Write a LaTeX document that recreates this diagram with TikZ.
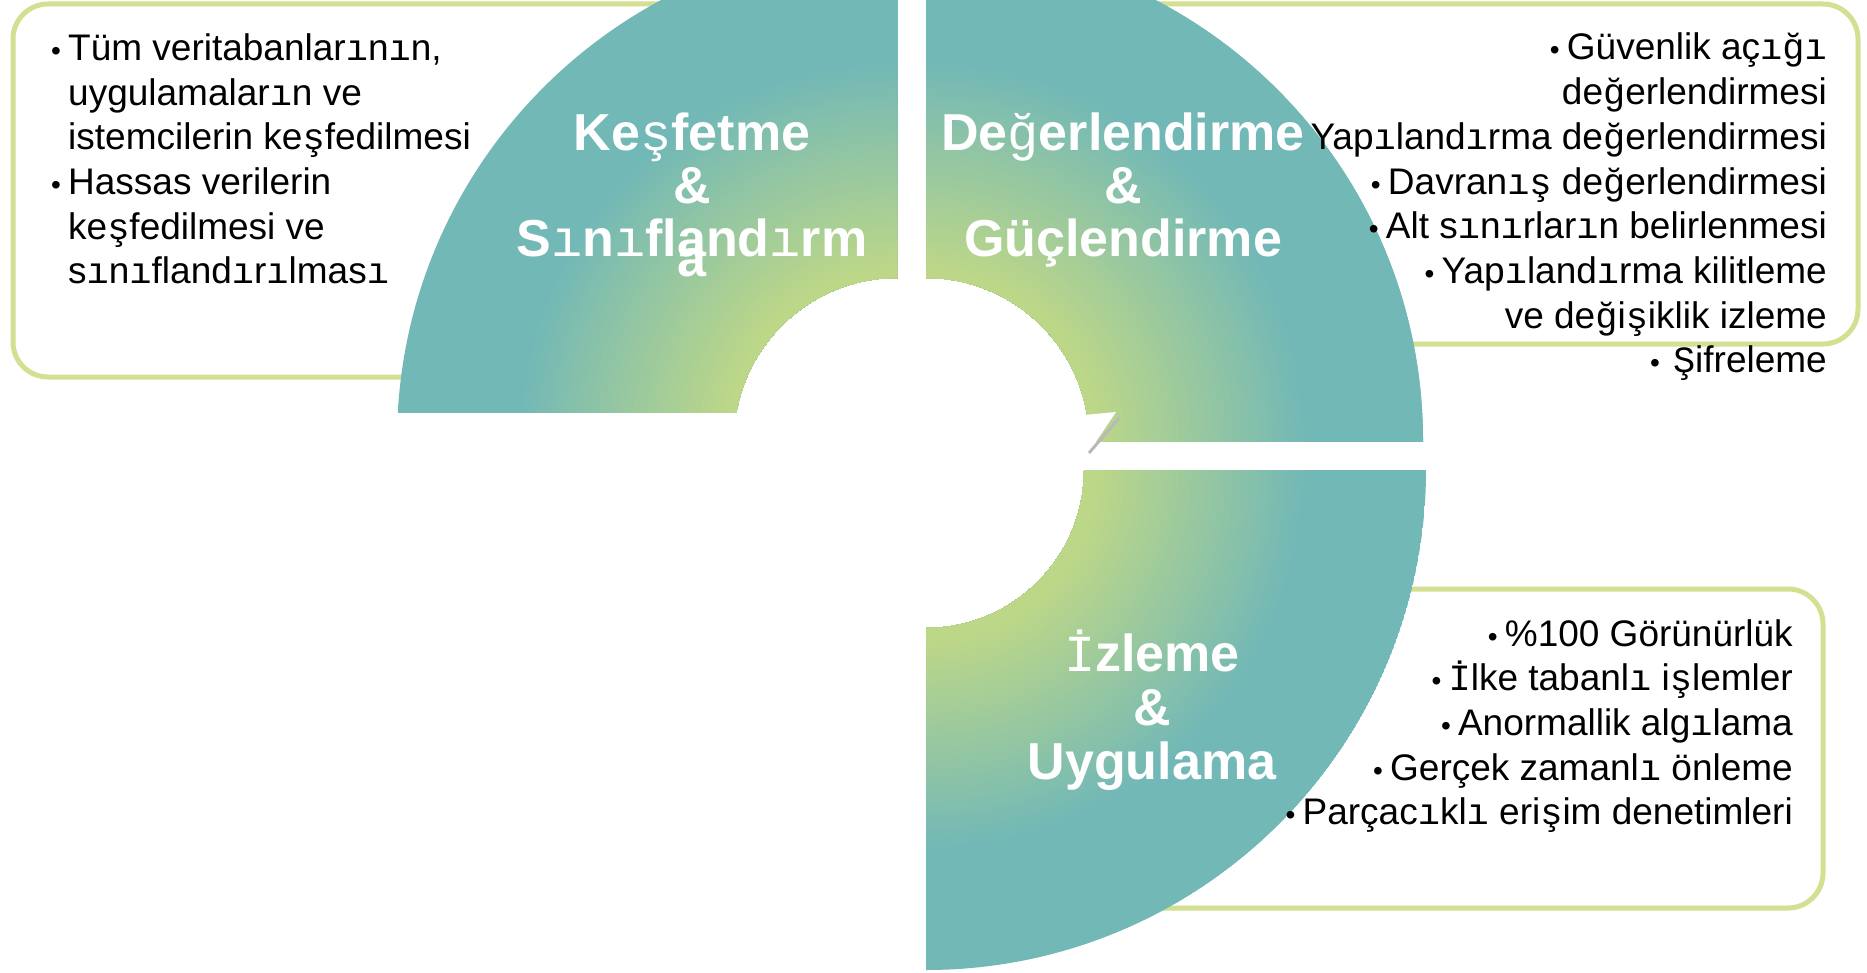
\documentclass[tikz,border=0pt]{standalone}
\usepackage{fontspec}
\setmainfont{Liberation Sans}
\newfontfamily\fbfont{Liberation Mono}
% letters set in the substitute mono face
\newcommand\fb[1]{{\fbfont\mdseries #1}}
% bullet followed by its gap
\newcommand\bul{\makebox[17pt][l]{\fontsize{28pt}{28pt}\selectfont •}}

\definecolor{ringgreen}{HTML}{BDD788}
\definecolor{ringteal}{HTML}{72B8B7}
\definecolor{boxline}{HTML}{D3DF91}

\tikzset{
  infobox/.style={draw=boxline, line width=5pt, fill=white, rounded corners=35pt},
  body/.style={font=\fontsize{37pt}{44.7pt}\selectfont, text=black, inner sep=0pt},
  title/.style={font=\fontsize{52pt}{53pt}\selectfont\bfseries, text=white, inner sep=0pt},
}

% radial green-to-teal fill of one ring, drawn as concentric discs
\newcommand\ringfill[2]{%
  \foreach \r in {#2,...,160}{%
    \pgfmathsetmacro\p{max(0,min(100,(380-\r)/210*100))}%
    \fill[ringgreen!\p!ringteal] (#1) circle[radius=\r pt];
  }%
}

\begin{document}
\begin{tikzpicture}[x=1pt, y=-1pt]
\useasboundingbox (0,0) rectangle (1867,973);
\clip (0,0) rectangle (1867,973);

% rounded info boxes, partly hidden behind the ring
\draw[infobox] (13,4) rectangle (700,377);
\draw[infobox] (1100,4) rectangle (1858,344);
\draw[infobox] (1100,589) rectangle (1823,908);

% ring centres
\coordinate (c1) at (897,441);
\coordinate (c2) at (926,441);
\coordinate (c3) at (926,470);

% upper-left quarter
\begin{scope}
  \clip (0,0) rectangle (897,412);
  \begin{scope}[even odd rule]
    \clip (c1) circle[radius=500pt] (c1) circle[radius=163pt];
    \ringfill{c1}{500,498}
  \end{scope}
\end{scope}

% upper-right quarter
\begin{scope}
  \clip (926,0) rectangle (1867,441);
  \begin{scope}[even odd rule]
    \clip (c2) circle[radius=497pt] (c2) circle[radius=163pt];
    \ringfill{c2}{500,498}
  \end{scope}
\end{scope}

% lower-right quarter
\begin{scope}
  \clip (926,470) rectangle (1867,973);
  \begin{scope}[even odd rule]
    \clip (c3) circle[radius=500pt] (c3) circle[radius=158pt];
    \ringfill{c3}{500,498}
  \end{scope}
\end{scope}

% small notch on the inner edge of the upper-right quarter
\fill[white] (1084,415) -- (1116,412) -- (1089,452) -- cycle;
\draw[gray!55, line width=3pt] (1119,418) -- (1089,453);

% titles
\node[title, anchor=base] (t1a) at (692,151) {Ke\fb{ş}fetme};
\node[title, anchor=base] (t1b) at (692,204) {\&};
\node[title, anchor=base] (t1c) at (692,257) {S\fb{ı}n\fb{ı}fland\fb{ı}rm};
\node[title, anchor=base] (t1d) at (692,277) {a};

\node[title, anchor=base] (t2a) at (1123,151) {De\fb{ğ}erlendirme};
\node[title, anchor=base] (t2b) at (1123,204) {\&};
\node[title, anchor=base] (t2c) at (1123,257) {Güçlendirme};

\node[title, anchor=base] (t3a) at (1152,671) {\fb{İ}zleme};
\node[title, anchor=base] (t3b) at (1152,725) {\&};
\node[title, anchor=base] (t3c) at (1152,779) {Uygulama};

% left box text
\node[body, anchor=base west] (l1) at (51,60.5) {\bul Tüm veritabanlar\fb{ı}n\fb{ı}n,};
\node[body, anchor=base west] (l2) at (68,105.2) {uygulamalar\fb{ı}n ve};
\node[body, anchor=base west] (l3) at (68,149.9) {istemcilerin ke\fb{ş}fedilmesi};
\node[body, anchor=base west] (l4) at (51,194.6) {\bul Hassas verilerin};
\node[body, anchor=base west] (l5) at (68,239.3) {ke\fb{ş}fedilmesi ve};
\node[body, anchor=base west] (l6) at (68,284) {s\fb{ı}n\fb{ı}fland\fb{ı}r\fb{ı}lmas\fb{ı}};

% upper-right box text
\node[body, anchor=base east] (r1) at (1827,60) {\bul Güvenlik aç\fb{ığı}};
\node[body, anchor=base east] (r2) at (1827,104.7) {de\fb{ğ}erlendirmesi};
\node[body, anchor=base east] (r3) at (1827,149.4) {Yap\fb{ı}land\fb{ı}rma de\fb{ğ}erlendirmesi};
\node[body, anchor=base east] (r4) at (1827,194.1) {\bul Davran\fb{ış} de\fb{ğ}erlendirmesi};
\node[body, anchor=base east] (r5) at (1827,238.8) {\bul Alt s\fb{ı}n\fb{ı}rlar\fb{ı}n belirlenmesi};
\node[body, anchor=base east] (r6) at (1827,283.5) {\bul Yap\fb{ı}land\fb{ı}rma kilitleme};
\node[body, anchor=base east] (r7) at (1827,328.2) {ve de\fb{ğ}i\fb{ş}iklik izleme};
\node[body, anchor=base east] (r8) at (1827,372.9) {\bul\hspace{6pt}\fb{Ş}ifreleme};

% lower-right box text
\node[body, anchor=base east] (b1) at (1793,646) {\bul \%100 Görünürlük};
\node[body, anchor=base east] (b2) at (1793,690.7) {\bul \fb{İ}lke tabanl\fb{ı} i\fb{ş}lemler};
\node[body, anchor=base east] (b3) at (1793,735.4) {\bul Anormallik alg\fb{ı}lama};
\node[body, anchor=base east] (b4) at (1793,780.1) {\bul Gerçek zamanl\fb{ı} önleme};
\node[body, anchor=base east] (b5) at (1793,824.8) {\bul Parçac\fb{ı}kl\fb{ı} eri\fb{ş}im denetimleri};
\end{tikzpicture}
\end{document}
